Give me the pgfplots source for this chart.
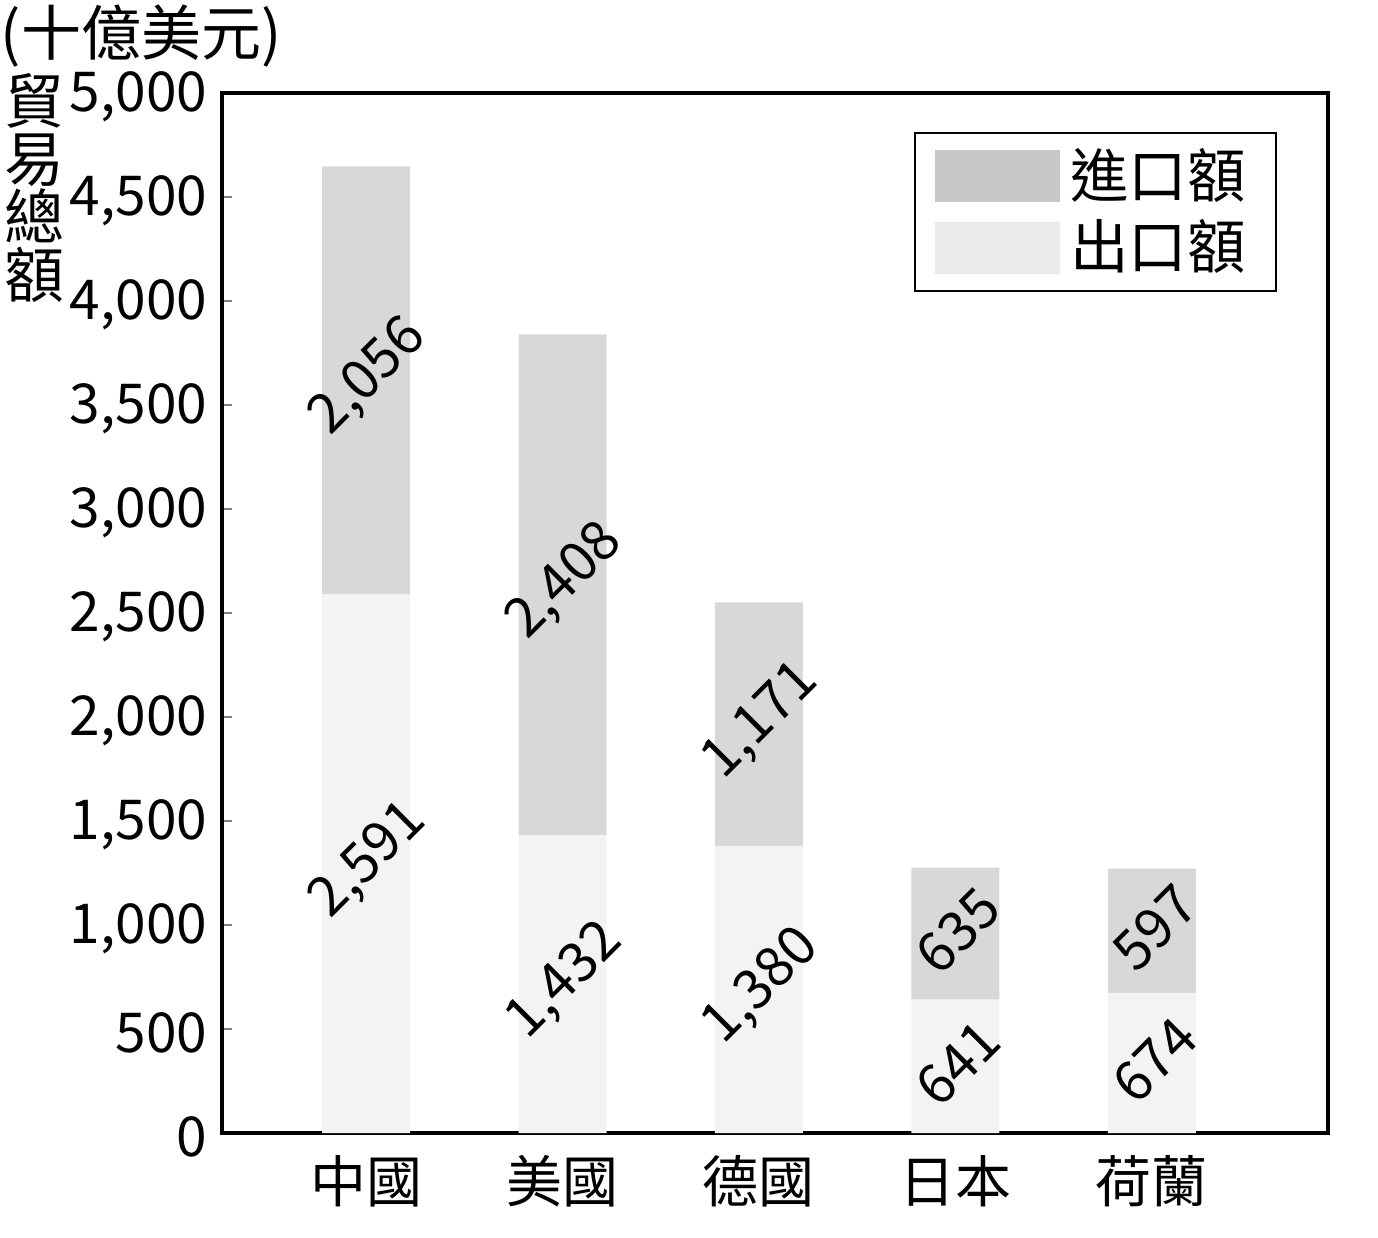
\documentclass[border=0pt]{standalone}
\usepackage{fontspec}
\setmainfont{Noto Sans CJK TC}
\usepackage{pgfplots}
\usepackage{pgfplotstable}
\pgfplotsset{compat=1.18}

\definecolor{impBar}{HTML}{D8D8D8}
\definecolor{expBar}{HTML}{F3F3F3}
\definecolor{impLeg}{HTML}{C8C8C8}
\definecolor{expLeg}{HTML}{EBEBEB}

% exports first (bottom), imports stacked on top
\pgfplotstableread{
x exp imp
0 2591 2056
1 1432 2408
2 1380 1171
3 641 635
4 674 597
}\trade

\pgfplotsset{
  frame/.style={
    at={(0,0)}, anchor=south west,
    scale only axis, width=221.2pt, height=208pt,
    xmin=-0.733, xmax=4.896, ymin=0, ymax=5000,
    /pgf/number format/.cd, 1000 sep={,}, assume math mode=true, /pgfplots/.cd,
  },
}

\begin{document}
\begin{tikzpicture}
\begin{axis}[
  frame,
  ybar stacked, bar width=17.6pt,
  xtick=data, xticklabels={中國,美國,德國,日本,荷蘭},
  ytick={0,500,...,5000},
  scaled y ticks=false,
  x tick style={draw=none},
  ytick pos=left, tick align=inside, major tick length=2pt,
  y tick style={line width=0.4pt},
  axis line style={line width=0.8pt},
  y tick label style={font=\fontsize{11}{12}\selectfont, xshift=0.6pt, yshift=-0.8pt},
  x tick label style={font=\fontsize{11.2}{12}\selectfont, yshift=-1pt},
  legend style={at={(1,1)}, anchor=north east, xshift=-10.2pt, yshift=-7.8pt,
    draw=black, line width=0.4pt, font=\fontsize{11.7}{12}\selectfont,
    inner xsep=4pt, inner ysep=1pt, row sep=-1pt,
    /tikz/every even column/.append style={column sep=1.6pt}},
  legend cell align=left,
]
\addplot[fill=expBar, draw=none, forget plot] table[x=x, y=exp] {\trade};
\addplot[fill=impBar, draw=none, forget plot] table[x=x, y=imp] {\trade};
\addlegendimage{legend image code/.code={\fill[impLeg] (0pt,-5pt) rectangle (24.6pt,5pt);}}
\addlegendentry{進口額}
\addlegendimage{legend image code/.code={\fill[expLeg] (0pt,-5pt) rectangle (24.6pt,5pt);}}
\addlegendentry{出口額}
\end{axis}
% value labels, centred in each segment
\begin{axis}[
  frame, hide axis, clip=false,
  nodes near coords,
  nodes near coords style={anchor=center, rotate=45, xshift=0.8pt,
    font=\fontsize{11}{12}\selectfont},
]
\addplot[only marks, mark=none, point meta=explicit]
  table[x=x, y expr=\thisrow{exp}/2, meta=exp] {\trade};
\addplot[only marks, mark=none, point meta=explicit]
  table[x=x, y expr=\thisrow{exp}+\thisrow{imp}/2, meta=imp] {\trade};
\end{axis}
\node[anchor=west, inner sep=0, font=\fontsize{12}{13}\selectfont] at (-44.4pt,219.4pt) {(十億美元)};
\node[align=center, inner sep=0, font=\fontsize{12}{11.6}\selectfont] at (-37.4pt,189pt) {貿\\易\\總\\額};
\pgfresetboundingbox
\useasboundingbox (-44.4pt,-20.8pt) rectangle (231.2pt,226.6pt);
\end{tikzpicture}
\end{document}
